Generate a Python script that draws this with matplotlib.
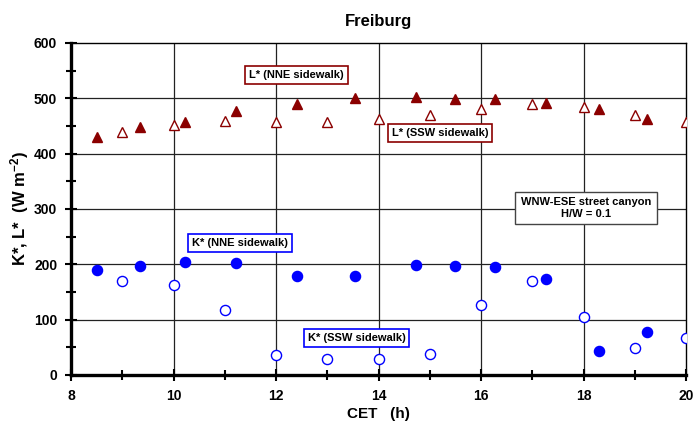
import matplotlib
matplotlib.use("Agg")
import matplotlib.pyplot as plt
from matplotlib.ticker import MultipleLocator, FixedLocator

plt.rcParams['font.family'] = ['Liberation Sans', 'DejaVu Sans']
plt.rcParams['font.weight'] = 'bold'
plt.rcParams['mathtext.fontset'] = 'custom'
plt.rcParams['mathtext.rm'] = 'Liberation Sans:bold'
plt.rcParams['mathtext.bf'] = 'Liberation Sans:bold'
plt.rcParams['mathtext.default'] = 'bf'

# K* NNE sidewalk (filled circles)
k_nne_t = [8.5, 9.35, 10.23, 11.22, 12.41, 13.54, 14.73, 15.49, 16.27, 17.27, 18.3, 19.24]
k_nne_v = [190, 197, 204, 202, 178, 178, 199, 197, 195, 173, 43, 78]
# K* SSW sidewalk (open circles)
k_ssw_t = [9, 10, 11, 12, 13, 14, 15, 16, 17, 18, 19, 20]
k_ssw_v = [170, 163, 117, 36, 29, 29, 38, 126, 170, 105, 49, 67]
# L* NNE sidewalk (filled triangles)
l_nne_t = [8.5, 9.35, 10.23, 11.22, 12.41, 13.54, 14.73, 15.49, 16.27, 17.27, 18.3, 19.24]
l_nne_v = [430, 448, 457, 477, 490, 500, 503, 499, 499, 492, 481, 463]
# L* SSW sidewalk (open triangles)
l_ssw_t = [9, 10, 11, 12, 13, 14, 15, 16, 17, 18, 19, 20]
l_ssw_v = [439, 452, 459, 457, 457, 462, 470, 480, 490, 485, 470, 457]

red = '#8B0000'
blue = '#0000FF'

fig = plt.figure(figsize=(6.95, 4.29), dpi=100)
ax = fig.add_axes([0.1022, 0.1259, 0.885, 0.774])

for x in [10, 12, 14, 16, 18]:
    ax.axvline(x, color='#222222', lw=0.9, zorder=1)
for y in [100, 200, 300, 400, 500]:
    ax.axhline(y, color='#222222', lw=0.9, zorder=1)

ms = 7.3
ax.plot(l_nne_t, l_nne_v, '^', color=red, ms=ms, ls='none', zorder=3)
ax.plot(l_ssw_t, l_ssw_v, '^', mfc='white', mec=red, mew=1.0, ms=ms, ls='none', zorder=3)
ax.plot(k_nne_t, k_nne_v, 'o', color=blue, ms=ms, ls='none', zorder=3)
ax.plot(k_ssw_t, k_ssw_v, 'o', mfc='white', mec=blue, mew=1.0, ms=ms, ls='none', zorder=3)

ax.set_xlim(8, 20)
ax.set_ylim(0, 600)
ax.xaxis.set_major_locator(FixedLocator([8, 10, 12, 14, 16, 18, 20]))
ax.xaxis.set_minor_locator(MultipleLocator(1))
ax.yaxis.set_major_locator(MultipleLocator(100))
ax.yaxis.set_minor_locator(MultipleLocator(50))
ax.tick_params(which='both', direction='inout', length=8, width=1.5, labelsize=10, top=False, right=False, pad=6)
ax.tick_params(which='minor', length=7)
for lab in ax.get_xticklabels() + ax.get_yticklabels():
    lab.set_fontweight('bold')

for s in ['left', 'bottom']:
    ax.spines[s].set_linewidth(2.4)
for s in ['top', 'right']:
    ax.spines[s].set_linewidth(1.0)

ax.set_title('Freiburg', fontsize=12, fontweight='bold', pad=12)
ax.set_xlabel('CET   (h)', fontsize=11, fontweight='bold', labelpad=3)
ax.set_ylabel('K*, L*  (W m$^{-2}$)', fontsize=12, fontweight='bold', labelpad=2)

def box(x, y, text, ec):
    ax.text(x, y, text, fontsize=8, fontweight='bold', ha='center', va='center', zorder=5,
            bbox=dict(boxstyle='square,pad=0.35', fc='white', ec=ec, lw=1.2))

box(12.4, 542, 'L* (NNE sidewalk)', red)
box(15.2, 437, 'L* (SSW sidewalk)', red)
box(11.3, 238, 'K* (NNE sidewalk)', blue)
box(13.57, 67, 'K* (SSW sidewalk)', blue)
ax.text(18.05, 302, 'WNW-ESE street canyon\nH/W = 0.1', fontsize=8, fontweight='bold',
        ha='center', va='center', zorder=5, linespacing=1.2,
        bbox=dict(boxstyle='square,pad=0.5', fc='white', ec='#444444', lw=1.0))

fig.savefig('out.png', dpi=100)
